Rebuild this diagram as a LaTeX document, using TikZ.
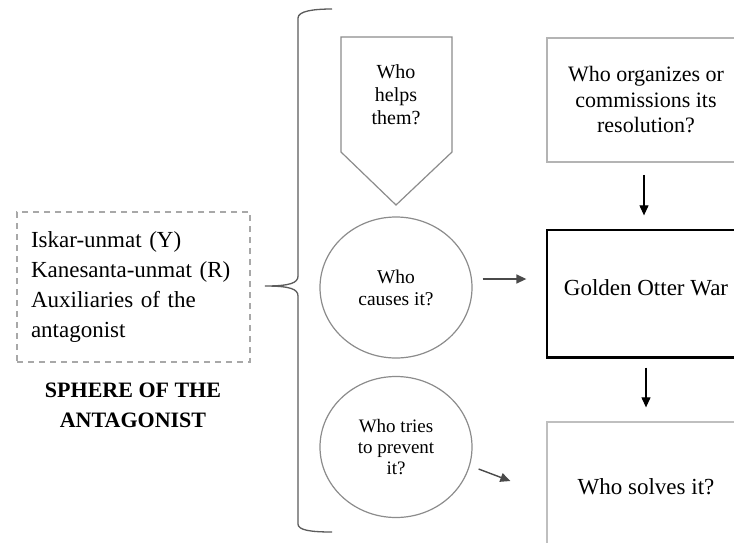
\documentclass[tikz,border=0pt]{standalone}
\usepackage{fontspec}
\setmainfont{Liberation Serif}
\usetikzlibrary{arrows.meta,shapes.geometric}
\definecolor{shapegray}{HTML}{8C8C8C}
\definecolor{boxgray}{HTML}{B4B4B4}
\definecolor{dashgray}{HTML}{A8A8A8}
\definecolor{arrgray}{HTML}{4A4A4A}
\tikzset{
  arr/.style={draw=arrgray, line width=1.4pt, -{Triangle[length=10pt,width=9pt]}},
  darr/.style={draw=black, line width=1.1pt, -{Triangle[length=10pt,width=9pt]}},
  circ/.style={ellipse, draw=shapegray, line width=1.2pt, minimum width=152pt, minimum height=141pt, align=center, inner sep=0pt},
  rbox/.style={rectangle, minimum width=198pt, align=center, inner sep=0pt},
}
\begin{document}
\begin{tikzpicture}[x=1pt,y=-1pt]
\useasboundingbox (0,0) rectangle (734,542);
\clip (0,0) rectangle (734,542);
\fill[white] (0,0) rectangle (734,542);

% left dashed box
\node[draw=dashgray, line width=1.4pt, dash pattern=on 6pt off 5pt, rectangle,
      minimum width=233pt, minimum height=150pt, inner xsep=14pt, text width=205pt,
      align=left, font=\fontsize{23}{30}\selectfont] (ant) at (133.5,287)
  {Iskar-unmat (Y)\\Kanesanta-unmat (R)\\Auxiliaries of the\\antagonist};
\node[align=center, font=\fontsize{22}{30}\selectfont\bfseries] (title) at (133,405)
  {SPHERE OF THE\\ANTAGONIST};

% brace
\draw[draw=arrgray!90, line width=1.3pt]
  (332,9) .. controls (314,9) and (298,11) .. (298,18) -- (298,276)
  .. controls (298,283) and (290,286) .. (265,286)
  .. controls (290,286) and (298,289) .. (298,296) -- (298,524)
  .. controls (298,530) and (310,532) .. (332,532);

% pentagon
\draw[draw=shapegray, line width=1.2pt] (341,37) -- (452,37) -- (452,152) -- (396,205) -- (341,152) -- cycle;
\node[align=center, font=\fontsize{20}{23}\selectfont] (helps) at (396,95) {Who\\helps\\them?};

% circles
\node[circ, font=\fontsize{19.5}{22}\selectfont] (c1) at (396,287.5) {Who\\causes it?};
\node[circ, font=\fontsize{19}{21}\selectfont] (c2) at (396,447) {Who tries\\to prevent\\it?};

% right boxes
\node[rbox, draw=boxgray, line width=1.5pt, minimum height=124pt, font=\fontsize{22}{25.5}\selectfont] (org) at (646,100)
  {Who organizes or\\commissions its\\resolution?};
\node[rbox, draw=black, line width=1.3pt, minimum height=127pt, font=\fontsize{23}{27}\selectfont] (war) at (646,293.5) {};
\node[font=\fontsize{23}{27}\selectfont] (wartext) at (646,288) {Golden Otter War};
\draw[black, line width=2pt] (war.south west) -- (war.south east);
\node[rbox, draw=boxgray!85, line width=1.3pt, minimum height=130pt, font=\fontsize{23}{27}\selectfont] (solve) at (646,487) {Who solves it?};

% arrows
\draw[arr] ([shift={(10,-8.5)}]c1.east) -- ([shift={(-20,-14.5)}]war.west);
\draw[arr] ([shift={(6,22)}]c2.east) -- ([shift={(-36,-6)}]solve.west);
\draw[darr, shorten <=12pt, shorten >=14pt] ([xshift=-2pt]org.south) -- ([xshift=-2pt]war.north);
\draw[darr, shorten <=10pt, shorten >=14pt] (war.south) -- (solve.north);
\end{tikzpicture}
\end{document}
